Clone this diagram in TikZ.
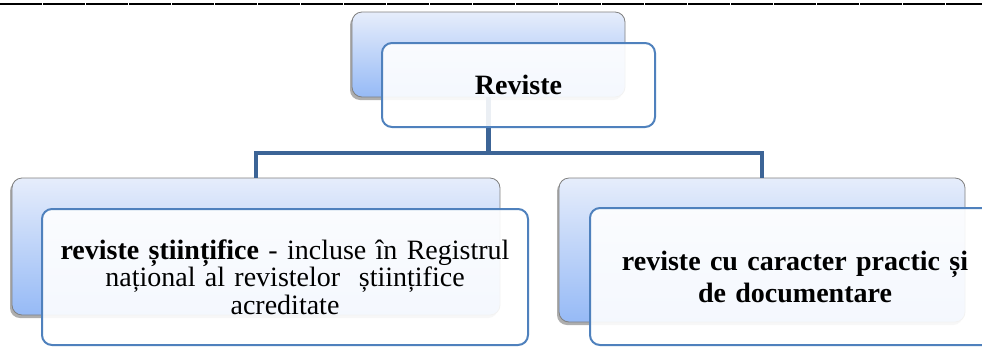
\documentclass[tikz,border=0pt]{standalone}
\usepackage{fontspec}
\setmainfont{Liberation Serif}
\usetikzlibrary{shadows}
\definecolor{backtop}{RGB}{230,237,251}
\definecolor{backbot}{RGB}{150,186,246}
\definecolor{backline}{RGB}{128,128,128}
\definecolor{frontline}{RGB}{79,129,189}
\definecolor{conn}{RGB}{60,100,150}
\tikzset{
  backbox/.style={rectangle, rounded corners=10pt, draw=backline, line width=0.8pt,
    top color=backtop, bottom color=backbot, inner sep=0pt,
    drop shadow={shadow xshift=-2pt, shadow yshift=-3pt, opacity=0.45, fill=black!70}},
  frontbox/.style={rectangle, rounded corners=10pt, draw=frontline, line width=2pt,
    fill=white, fill opacity=0.9, text opacity=1, inner sep=0pt, align=center},
  connector/.style={draw=conn, line width=4.5pt},
}
\begin{document}
\begin{tikzpicture}[x=1pt, y=-1pt]
\useasboundingbox (0,0) rectangle (982,349);
\fill[white] (0,0) rectangle (982,349);
\begin{scope}
\clip (0,0) rectangle (982,349);
\draw[line width=2pt, black, dash pattern=on 41.5pt off 1.5pt] (0,4) -- (982,4);
% back boxes
\node[backbox, minimum width=273pt, minimum height=85pt] (topback) at (488.5,54.5) {};
\node[backbox, minimum width=488pt, minimum height=137pt] (leftback) at (256,246.5) {};
\node[backbox, minimum width=406pt, minimum height=144pt] (rightback) at (762,250) {};
% connectors
\coordinate (junction) at (topback.south |- 0,153);
\draw[connector] (topback.south) -- (junction);
\draw[connector] (leftback.north) |- (junction) -| (rightback.north);
% front boxes
\node[frontbox, minimum width=273pt, minimum height=84pt, font=\fontsize{28}{30}\selectfont\bfseries] (topfront) at (518.5,85) {Reviste};
\node[frontbox, minimum width=486pt, minimum height=136pt, text width=486pt, font=\fontsize{28}{27.5}\selectfont] (leftfront) at (285,277)
  {\textbf{reviste științifice} - incluse în Registrul\\ național al revistelor \ științifice\\ acreditate};
\node[frontbox, minimum width=410pt, minimum height=137pt, text width=404pt, font=\fontsize{28}{32}\selectfont\bfseries] (rightfront) at (795,276.5)
  {reviste cu caracter practic și\\ de documentare};
\end{scope}
\end{tikzpicture}
\end{document}
